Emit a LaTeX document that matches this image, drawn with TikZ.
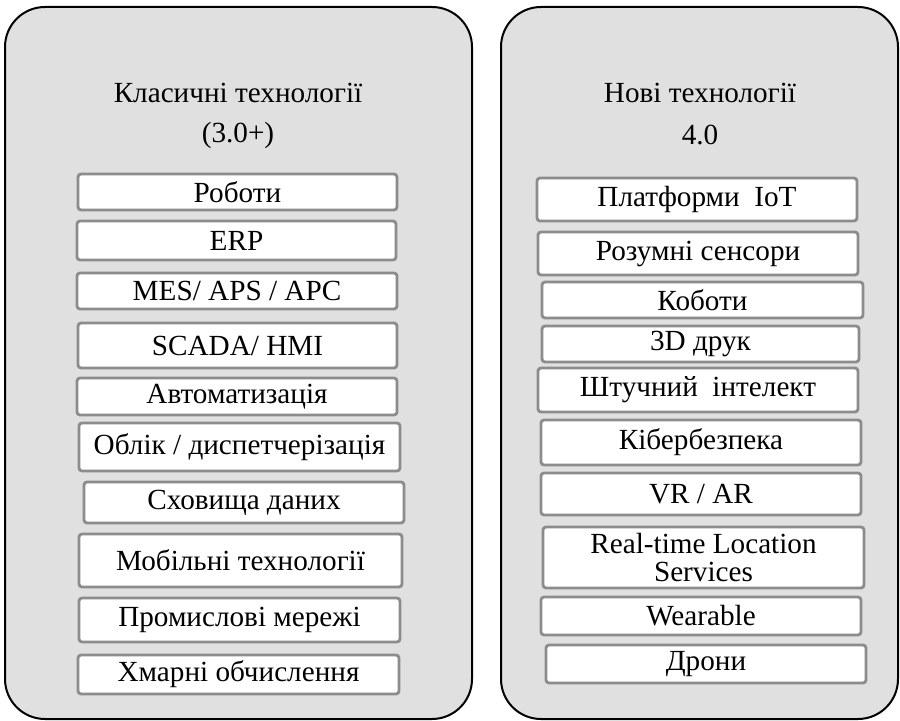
\documentclass[tikz,border=0pt]{standalone}
\usepackage{fontspec}
\setmainfont{Liberation Serif}
\definecolor{panelgray}{RGB}{224,224,224}
\definecolor{boxline}{RGB}{140,140,140}
\begin{document}
\begin{tikzpicture}[x=0.5pt,y=-0.5pt,
    panel/.style={draw=black, line width=1pt, fill=panelgray, rounded corners=20pt},
    title/.style={font=\fontsize{14.6}{17}\selectfont},
    item/.style={draw=boxline, line width=1.4pt, fill=white, rounded corners=1.5pt,
        inner sep=0pt, align=center, font=\fontsize{14.6}{14.2}\selectfont}]
\useasboundingbox (0,0) rectangle (900,721);
% Klasychni tekhnolohii 3.0+
\draw[panel] (5,7) rectangle (472,719);
\node[title] (ltitle) at (238,93) {Класичні технології};
\node[title] (lver) at (238,135) {(3.0+)};
\node[item, minimum width=159.5pt, minimum height=18pt] (l1) at (237.5,192) {Роботи};
\node[item, minimum width=159.5pt, minimum height=19.5pt] (l2) at (236.5,240.5) {ERP};
\node[item, minimum width=160pt, minimum height=18pt] (l3) at (237,291) {MES/ APS / APC};
\node[item, minimum width=159.5pt, minimum height=22.5pt] (l4) at (237.5,345.5) {SCADA/ HMI};
\node[item, minimum width=160pt, minimum height=18.5pt] (l5) at (237,396.5) {Автоматизація};
\node[item, minimum width=160.5pt, minimum height=24pt] (l6) at (239.5,447) {Облік / диспетчерізація};
\node[item, minimum width=160pt, minimum height=20.5pt] (l7) at (244,502.5) {Сховища даних};
\node[item, minimum width=161.5pt, minimum height=26.5pt] (l8) at (240.5,560.5) {Мобільні\ технології};
\node[item, minimum width=160.5pt, minimum height=22pt] (l9) at (239.5,620) {Промислові мережі};
\node[item, minimum width=160.5pt, minimum height=19.5pt] (l10) at (238.5,674.5) {Хмарні обчислення};
% Novi tekhnolohii 4.0
\draw[panel] (501,7) rectangle (898,719);
\node[title] (rtitle) at (700,93) {Нові технології};
\node[title] (rver) at (700,135) {4.0};
\node[item, minimum width=160pt, minimum height=21.5pt] (r1) at (697,199.5) {Платформи\ \ IoT};
\node[item, minimum width=160pt, minimum height=21.5pt] (r2) at (698,253.5) {Розумні сенсори};
\node[item, minimum width=160.5pt, minimum height=18pt] (r3) at (702.5,300) {Коботи};
\node[item, minimum width=158.5pt, minimum height=18pt] (r4) at (700.5,344) {3D друк};
\node[item, minimum width=160pt, minimum height=22pt] (r5) at (698,390) {Штучний\ \ інтелект};
\node[item, minimum width=160pt, minimum height=22.5pt] (r6) at (701,442.5) {Кібербезпека};
\node[item, minimum width=160pt, minimum height=21pt] (r7) at (701,494) {VR / AR};
\node[item, minimum width=160.5pt, minimum height=30.5pt] (r8) at (703.5,557.5) {Real-time Location\\Services};
\node[item, minimum width=160pt, minimum height=19pt] (r9) at (701,616) {Wearable};
\node[item, minimum width=160pt, minimum height=19pt] (r10) at (706,664) {Дрони};
\end{tikzpicture}
\end{document}
